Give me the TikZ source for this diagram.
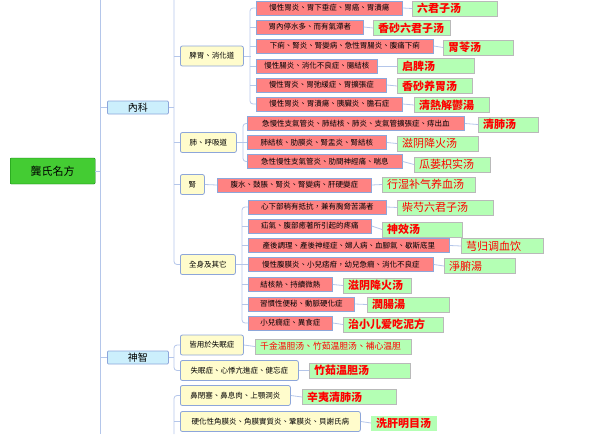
\documentclass[tikz,border=0pt]{standalone}
\usepackage{fontspec}
\newfontfamily\cjk{Noto Sans CJK TC}

\definecolor{rootgreen}{HTML}{44CC33}
\definecolor{linkblue}{HTML}{B4C6EA}
\definecolor{boxblue}{HTML}{8DA6DA}
\definecolor{illred}{HTML}{FF8282}
\definecolor{rxgreen}{HTML}{B4FFB4}

\begin{document}
\begin{tikzpicture}[x=1pt,y=-1pt,
    link/.style={draw=linkblue,line width=0.8pt},
    brace/.style={link,rounded corners=3pt},
    rootbox/.style={draw=green!45!black,fill=rootgreen,anchor=west,inner sep=0pt,
        minimum width=85pt,minimum height=26pt,rounded corners=1pt,font=\cjk\fontsize{11}{12}\selectfont},
    catbox/.style={draw=boxblue,fill=cyan!20,anchor=west,inner sep=0pt,line width=0.8pt,
        minimum width=61pt,minimum height=13pt,rounded corners=1pt,font=\cjk\fontsize{10}{11}\selectfont},
    grpbox/.style={draw=boxblue,fill=yellow!20,anchor=west,inner sep=0pt,line width=0.8pt,
        minimum height=20pt,rounded corners=2pt,font=\cjk\fontsize{7.5}{8}\selectfont},
    illbox/.style={draw=boxblue,fill=illred,anchor=west,inner sep=0pt,line width=0.8pt,
        minimum height=14pt,font=\cjk\fontsize{7.5}{8}\selectfont},
    rxbox/.style={draw=gray!55,fill=rxgreen,anchor=west,inner xsep=5pt,inner ysep=1pt,
        minimum height=15pt,align=left,text=red,font=\cjk\bfseries\fontsize{11}{12}\selectfont}]

    \useasboundingbox (0,0) rectangle (599,434);

    % spines
    \coordinate (spine) at (100,0);
    \coordinate (spineEnd) at (100,434);
    \coordinate (nkTop) at (174,0);
    \coordinate (wgEnd) at (174,434);
    \draw[link] (spine) -- (spineEnd);

    % root and categories
    \node[rootbox] (root) at (10,171) {龔氏名方};
    \node[catbox] (nk) at (107,107.5) {內科};
    \node[catbox] (sz) at (107,357.5) {神智};

    % groups
    \node[grpbox,minimum width=63pt] (pw) at (180,56) {脾胃、消化道};
    \node[grpbox,minimum width=56pt] (fh) at (180,142.5) {肺、呼吸道};
    \node[grpbox,minimum width=24pt] (sh) at (180,184.5) {腎};
    \node[grpbox,minimum width=55pt] (qs) at (180,264.5) {全身及其它};
    \node[grpbox,minimum width=63pt] (sm1) at (180,345) {皆用於失眠症};
    \node[grpbox,minimum width=118pt] (sm2) at (180,370.5) {失眠症、心悸亢進症、健忘症};
    \node[grpbox,minimum width=110pt] (bi) at (180,395.5) {鼻閉塞、鼻息肉、上顎洞炎};
    \node[grpbox,minimum width=180pt] (yan) at (180,421.5) {硬化性角膜炎、角膜實質炎、鞏膜炎、貝謝氏病};

    % spleen / stomach
    \node[illbox,minimum width=146pt] (p1) at (256,8) {慢性胃炎、胃下垂症、胃癌、胃潰瘍};
    \node[illbox,minimum width=107pt] (p2) at (256,27) {胃內停水多、而有氣滯者};
    \node[illbox,minimum width=177pt] (p3) at (256,46) {下痢、腎炎、腎變病、急性胃腸炎、腹痛下痢};
    \node[illbox,minimum width=121pt] (p4) at (256,66) {慢性腸炎、消化不良症、腸結核};
    \node[illbox,minimum width=130pt] (p5) at (256,85) {慢性胃炎、胃弛緩症、胃擴張症};
    \node[illbox,minimum width=146pt] (p6) at (256,104) {慢性胃炎、胃潰瘍、胰臟炎、膽石症};
    \node[rxbox,text width=75pt] (rp1) at (412,8.5) {六君子汤};
    \node[rxbox,text width=67pt] (rp2) at (373,28) {香砂六君子汤};
    \node[rxbox,text width=60pt] (rp3) at (443,47.5) {胃苓汤};
    \node[rxbox,text width=67pt] (rp4) at (397,66) {启脾汤};
    \node[rxbox,text width=65pt] (rp5) at (397,86) {香砂养胃汤};
    \node[rxbox,text width=65pt] (rp6) at (414,105) {清熱解鬱湯};

    % lung
    \node[illbox,minimum width=217pt] (f1) at (247,123.5) {急慢性支氣管炎、肺結核、肺炎、支氣管擴張症、痔出血};
    \node[illbox,minimum width=139pt] (f2) at (247,142.5) {肺結核、肋膜炎、腎盂炎、腎結核};
    \node[illbox,minimum width=155pt] (f3) at (247,161.5) {急性慢性支氣管炎、肋間神經痛、喘息};
    \node[rxbox,text width=50pt] (rf1) at (478,124.5) {清肺汤};
    \node[rxbox,text width=71pt,font=\cjk\fontsize{11}{12}\selectfont] (rf2) at (397,143.5) {滋阴降火汤};
    \node[rxbox,text width=66pt,font=\cjk\fontsize{11}{12}\selectfont] (rf3) at (414,164.5) {瓜蒌枳实汤};

    % kidney
    \node[illbox,minimum width=154pt] (s1) at (217,185) {腹水、鼓脹、腎炎、腎變病、肝硬變症};
    \node[rxbox,text width=83pt,font=\cjk\fontsize{11}{12}\selectfont] (rs1) at (382,184.5) {行湿补气养血汤};

    % whole body
    \node[illbox,minimum width=138pt] (q1) at (248,207) {心下部稍有抵抗，兼有胸脅苦滿者};
    \node[illbox,minimum width=123pt] (q2) at (248,226) {疝氣、腹部癒著所引起的疼痛};
    \node[illbox,minimum width=201pt] (q3) at (248,245.5) {產後調理、產後神經症、婦人病、血腳氣、歇斯底里};
    \node[illbox,minimum width=185pt] (q4) at (248,264.5) {慢性腹膜炎、小兒痞疳，幼兒急癇、消化不良症};
    \node[illbox,minimum width=84pt] (q5) at (248,284.5) {結核熱、持續微熱};
    \node[illbox,minimum width=106pt] (q6) at (248,304) {習慣性便秘、動脈硬化症};
    \node[illbox,minimum width=84pt] (q7) at (248,323) {小兒癇症、異食症};
    \node[rxbox,text width=86pt,font=\cjk\fontsize{11}{12}\selectfont] (rq1) at (397,207.5) {柴芍六君子汤};
    \node[rxbox,text width=70pt] (rq2) at (382,229.5) {神效汤};
    \node[rxbox,text width=72pt,font=\cjk\fontsize{11}{12}\selectfont] (rq3) at (461,246) {芎归调血饮};
    \node[rxbox,text width=61pt,font=\cjk\fontsize{11}{12}\selectfont] (rq4) at (444,266) {淨腑湯};
    \node[rxbox,text width=58pt] (rq5) at (343,285.5) {滋阴降火汤};
    \node[rxbox,text width=72pt] (rq6) at (367,304.5) {潤腸湯};
    \node[rxbox,text width=90pt] (rq7) at (343,324.5) {治小儿爱吃泥方};

    % mind
    \node[rxbox,text width=146pt,font=\cjk\fontsize{8.8}{10}\selectfont] (rsm1) at (255,346.5) {千金温胆汤、竹茹温胆汤、補心温胆};
    \node[rxbox,text width=91pt] (rsm2) at (309,370.5) {竹茹温胆汤};
    \node[rxbox,text width=84pt] (rbi) at (302,397) {辛夷清肺汤};
    \node[rxbox,text width=56pt,draw=none] (ryan) at (371,423) {洗肝明目汤};

    % root links
    \draw[link] (root.east) -- (root.east -| spine);
    \draw[link] (nk.west) -- (nk.west -| spine);
    \draw[link] (sz.west) -- (sz.west -| spine);

    % internal medicine links
    \draw[link] (nk.east) -- (nk.east -| nkTop);
    \draw[brace] (nkTop) |- (qs.west);
    \draw[link] (pw.west) -- (pw.west -| nkTop);
    \draw[link] (fh.west) -- (fh.west -| nkTop);
    \draw[link] (sh.west) -- (sh.west -| nkTop);

    % mind links
    \draw[link] (sz.east) -- (sz.east -| nkTop);
    \draw[brace] (sm1.west) -- ++(-6,0) |- (sm2.west);
    \draw[brace] (wgEnd) |- (bi.west);
    \draw[link] (yan.west) -- (yan.west -| wgEnd);

    % group brackets
    \draw[link] (pw.east) -- ++(7,0);
    \draw[brace] (p1.west) -- ++(-6,0) |- (p6.west);
    \foreach \n in {p2,p3,p4,p5} \draw[link] (\n.west) -- ++(-6,0);
    \draw[link] (fh.east) -- ++(7,0);
    \draw[brace] (f1.west) -- ++(-4,0) |- (f3.west);
    \draw[link] (f2.west) -- ++(-4,0);
    \draw[link] (sh.east) -- (s1.west);
    \draw[link] (qs.east) -- ++(7,0);
    \draw[brace] (q1.west) -- ++(-6,0) |- (q7.west);
    \foreach \n in {q2,q3,q4,q5,q6} \draw[link] (\n.west) -- ++(-6,0);

    % illness to prescription
    \foreach \a/\b in {p1/rp1,p2/rp2,p3/rp3,p4/rp4,p5/rp5,p6/rp6,f1/rf1,f2/rf2,f3/rf3,s1/rs1,
        q1/rq1,q2/rq2,q3/rq3,q4/rq4,q5/rq5,q6/rq6,q7/rq7,sm1/rsm1,sm2/rsm2,bi/rbi,yan/ryan}
        \draw[link] (\a.east) -- (\b.west);
\end{tikzpicture}
\end{document}
